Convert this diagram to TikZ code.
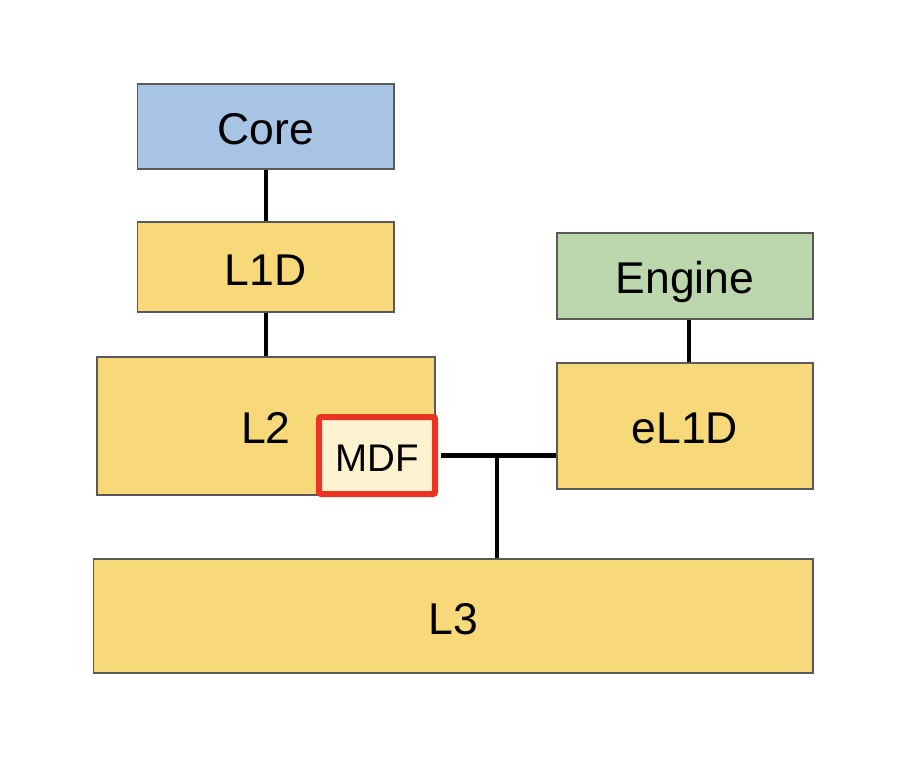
\documentclass[tikz,border=0pt]{standalone}
\usepackage{fontspec}
\setmainfont{Liberation Sans}
\definecolor{coreblue}{HTML}{A8C4E4}
\definecolor{cacheyellow}{HTML}{F7D97A}
\definecolor{enginegreen}{HTML}{BCD7AE}
\definecolor{mdffill}{HTML}{FDF2D0}
\definecolor{mdfred}{HTML}{EA3323}
\definecolor{bordergray}{HTML}{595959}
\tikzset{
  blk/.style={draw=bordergray, line width=1.5pt, rectangle, inner sep=0pt,
    text depth=0pt, text height=36pt, font=\fontsize{44.5}{52}\selectfont},
  mdfbox/.style={draw=mdfred, fill=mdffill, line width=6pt, rectangle, rounded corners=2pt,
    inner sep=0pt, text depth=0pt, text height=32pt, font=\fontsize{38.5}{45}\selectfont},
  wire/.style={line width=4.5pt, black}
}
\begin{document}
\begin{tikzpicture}[x=1pt,y=-1pt]
\useasboundingbox (0,0) rectangle (908,782);
\node[blk, fill=coreblue, minimum width=256.5pt, minimum height=85pt] (core) at (265.75,126.5) {Core};
\node[blk, fill=cacheyellow, minimum width=256.5pt, minimum height=90pt] (l1d) at (265.75,267) {L1D};
\node[blk, fill=cacheyellow, minimum width=338.3pt, minimum height=138.3pt] (l2) at (265.9,425.9) {L2};
\node[mdfbox, minimum width=116pt, minimum height=77pt] (mdf) at (377,455.5) {MDF};
\node[blk, fill=enginegreen, minimum width=256.3pt, minimum height=86.3pt] (engine) at (684.9,275.9) {Engine};
\node[blk, fill=cacheyellow, minimum width=256.3pt, minimum height=126.3pt] (el1d) at (684.9,425.9) {eL1D};
\node[blk, fill=cacheyellow, minimum width=719.7pt, minimum height=114pt] (l3) at (453.2,616) {L3};
\coordinate (j) at (497,455.5);
\draw[wire] (core.south) -- (l1d.north);
\draw[wire] (l1d.south) -- (l1d.south |- l2.north);
\draw[wire] ([xshift=4.3pt]engine.south) -- ([xshift=4.3pt]engine.south |- el1d.north);
\draw[wire] ([xshift=3pt]mdf.east) -- (mdf.east -| el1d.west);
\draw[wire] (j) -- (j |- l3.north);
\end{tikzpicture}
\end{document}
